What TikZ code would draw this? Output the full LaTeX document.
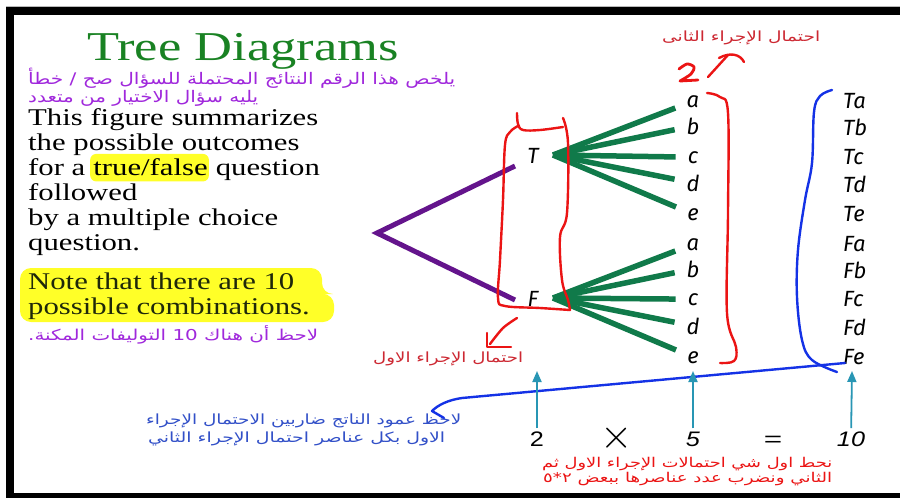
\documentclass[tikz,border=0pt]{standalone}
\usepackage{fontspec}
\setmainfont{Liberation Serif}
\newfontfamily\arab[Script=Arabic]{DejaVu Sans}
\newfontfamily\hand{Fira Sans}
\newfontfamily\eqf{Liberation Sans}
\usetikzlibrary{arrows.meta,backgrounds}
\TeXXeTstate=1
\newcommand\en[1]{\scalebox{1.28}[1]{\fontsize{24}{24}\selectfont #1}}
\newcommand\arw[3]{\resizebox{#2}{\height}{\fontsize{#1}{#1}\arab #3}}
\definecolor{ttlgreen}{RGB}{25,130,35}
\definecolor{arpurple}{RGB}{160,40,220}
\definecolor{treepurple}{RGB}{100,20,140}
\definecolor{treegreen}{RGB}{16,122,74}
\definecolor{hred}{RGB}{235,20,20}
\definecolor{lblred}{RGB}{205,40,50}
\definecolor{hblue}{RGB}{20,50,230}
\definecolor{txtblue}{RGB}{50,80,200}
\definecolor{arrcyan}{RGB}{40,150,180}
\definecolor{hlyellow}{RGB}{255,255,40}
\definecolor{notetxt}{RGB}{30,40,10}
\begin{document}
\begin{tikzpicture}[x=1pt,y=-1pt,
  engl/.style={inner sep=0pt, anchor=base west},
  arl/.style={inner sep=0pt, anchor=base west},
  lt/.style={inner sep=1pt, anchor=base, font=\hand\itshape\fontsize{22}{22}\selectfont},
  pair/.style={inner sep=1pt, anchor=base west, font=\hand\itshape\fontsize{22}{22}\selectfont},
  eqn/.style={inner sep=3pt, anchor=base, font=\eqf\fontsize{21}{21}\selectfont},
  pline/.style={treepurple, line width=5pt},
  gline/.style={treegreen, line width=5.5pt, shorten >=11pt},
  pen/.style={line width=2.4pt, line cap=round, line join=round},
  carrow/.style={arrcyan, line width=1.8pt, -{Triangle[width=9pt,length=11pt]}},
]
\useasboundingbox (0,0) rectangle (900,498);
\begin{pgfonlayer}{background}
\fill[white] (0,0) rectangle (900,498);
\end{pgfonlayer}
% frame
\fill[gray!55] (6,5.5) rectangle (900,7);
\fill[black] (6,7) rectangle (900,15);
\fill[black] (6,7) rectangle (14,498);
\fill[black] (6,493) rectangle (900,498);

% title
\node[anchor=base, inner sep=0pt, text=ttlgreen] (title) at (243,60) {\scalebox{1.28}[1]{\fontsize{41}{41}\selectfont Tree Diagrams}};
\node[arl, text=arpurple] (ar1) at (28,84) {\arw{16}{427pt}{\beginR يلخص هذا الرقم النتائج المحتملة للسؤال صح / خطأ\endR}};
\node[arl, text=arpurple] (ar2) at (28,102) {\arw{16}{230pt}{\beginR يليه سؤال الاختيار من متعدد\endR}};

% english text
\node[engl] (l1) at (28,125) {\en{This figure summarizes}};
\node[engl] (l2) at (28,150) {\en{the possible outcomes}};
\node[engl] (l3a) at (28,175) {\en{for a\ }};
\node[engl] (l3b) at (l3a.base east) {\en{true/false}};
\node[engl] (l3c) at (l3b.base east) {\en{\ question}};
\node[engl] (l4) at (28,200) {\en{followed}};
\node[engl] (l5) at (28,225) {\en{by a multiple choice}};
\node[engl] (l6) at (28,250) {\en{question.}};
\node[engl, text=notetxt] (n1) at (28,289) {\en{Note that there are 10}};
\node[engl, text=notetxt] (n2l) at (28,314) {\en{possible combinations.}};
\node[arl, text=arpurple] (ar3) at (28,340) {\arw{15}{290pt}{\beginR لاحظ أن هناك \beginL 10\endL{} التوليفات المكنة.\endR}};
\begin{pgfonlayer}{background}
\fill[hlyellow, rounded corners=6pt] ([xshift=-3pt,yshift=-6pt]l3b.south west) rectangle ([xshift=1pt,yshift=4pt]l3b.north east);
\fill[hlyellow, rounded corners=11pt] (20,268) -- (322,268) -- (322,294) -- (334,294) -- (334,322) -- (20,322) -- cycle;
\end{pgfonlayer}

% tree
\coordinate (R) at (377,233);
\coordinate (Tin) at (515,166);
\coordinate (Fin) at (515,300);
\draw[pline] (Tin) -- (R) -- (Fin);
\node[lt] (T) at (533,163) {T};
\node[lt] (F) at (533,306) {F};
\coordinate (Tout) at (553,155);
\coordinate (Fout) at (553,298);
\node[lt] (a1) at (693,107) {a};
\node[lt] (b1) at (693,134) {b};
\node[lt] (c1) at (693,163) {c};
\node[lt] (d1) at (693,191) {d};
\node[lt] (e1) at (693,220) {e};
\node[lt] (a2) at (693,250) {a};
\node[lt] (b2) at (693,277) {b};
\node[lt] (c2) at (693,305) {c};
\node[lt] (d2) at (693,334) {d};
\node[lt] (e2) at (693,363) {e};
\foreach \n in {a1,b1,c1,d1,e1} \draw[gline] (Tout) -- (\n);
\foreach \n in {a2,b2,c2,d2,e2} \draw[gline] (Fout) -- (\n);

\node[pair] (Ta) at (842,108) {Ta};
\node[pair] (Tb) at (842,135) {Tb};
\node[pair] (Tc) at (842,164) {Tc};
\node[pair] (Td) at (842,192) {Td};
\node[pair] (Te) at (842,221) {Te};
\node[pair] (Fa) at (842,251) {Fa};
\node[pair] (Fb) at (842,278) {Fb};
\node[pair] (Fc) at (842,306) {Fc};
\node[pair] (Fd) at (842,335) {Fd};
\node[pair] (Fe) at (842,364) {Fe};

% red hand drawings
\draw[hred, pen] plot[smooth, tension=0.6] coordinates {(517,113) (518,124) (523,130) (540,130) (563,127)};
\draw[hred, pen] plot[smooth, tension=0.6] coordinates {(518,126) (510,132) (505,145) (503,200) (500,260) (498,298) (505,306) (540,308) (570,310)};
\draw[hred, pen] plot[smooth, tension=0.6] coordinates {(563,118) (568,143) (567,213) (560,237) (562,280) (568,300) (570,310)};
\draw[hred, pen] plot[smooth] coordinates {(517,318) (503,328) (490,344)};
\draw[hred, pen] (487,333) -- (487,347) -- (511,347);
\draw[hred, pen] plot[smooth, tension=0.6] coordinates {(707,93) (720,97) (728,113) (728,213) (727,313) (736,347) (734,361) (720,363)};
\draw[hred, line width=2.8pt, line cap=round, line join=round] plot[smooth] coordinates {(679,69) (687,64) (694,67) (691,74) (680,81)} -- (698,80);
\draw[hred, pen] (708,77) -- (728,55);
\draw[hred, pen] (719,58) .. controls (730,52) and (740,54) .. (744,62);
\node[arl, text=lblred] (lbl2) at (662,41) {\arw{14}{158pt}{\beginR احتمال الإجراء الثانى\endR}};
\node[arl, text=lblred] (lbl1) at (373,362) {\arw{14}{150pt}{\beginR احتمال الإجراء الاول\endR}};

% blue drawings
\draw[hblue, pen] plot[smooth, tension=0.6] coordinates {(832,90) (820,96) (814,112) (812,163) (805,200) (798,250) (797,297) (802,340) (812,360) (837,372)};
\draw[hblue, pen] ([xshift=3pt,yshift=1pt]Fe.base west) -- (462,398) .. controls (448,400) and (438,405) .. (432,411) -- (444,418);
\node[arl, text=txtblue] (bt1) at (146,424) {\arw{14}{315pt}{\beginR لاحظ عمود الناتج ضاربين الاحتمال الإجراء\endR}};
\node[arl, text=txtblue] (bt2) at (148,442) {\arw{14}{297pt}{\beginR الاول بكل عناصر احتمال الإجراء الثاني\endR}};

% equation
\node[eqn] (q2) at (537,446) {\scalebox{1.2}[1]{2}};
\node[eqn] (qx) at (617,448) {\scalebox{2}{$\times$}};
\node[eqn] (q5) at (693,446) {\scalebox{1.2}[1]{\itshape 5}};
\node[eqn] (qe) at (773,446) {\scalebox{1.5}[1]{=}};
\node[eqn] (q10) at (851,446) {\scalebox{1.2}[1]{\itshape 10}};
\coordinate (u2) at (537,371);
\coordinate (u5) at (693,371);
\coordinate (u10) at (852,371);
\draw[carrow] (q2) -- (u2);
\draw[carrow] (q5) -- (u5);
\draw[carrow] (q10) -- (u10);
\node[arl, text=hred] (rt1) at (542,467) {\arw{13.5}{290pt}{\beginR نحط اول شي احتمالات الإجراء الاول ثم\endR}};
\node[arl, text=hred] (rt2) at (543,482) {\arw{13.5}{289pt}{\beginR الثاني ونضرب عدد عناصرها ببعض ٢\kern0pt*\kern0pt٥\endR}};
\end{tikzpicture}
\end{document}
